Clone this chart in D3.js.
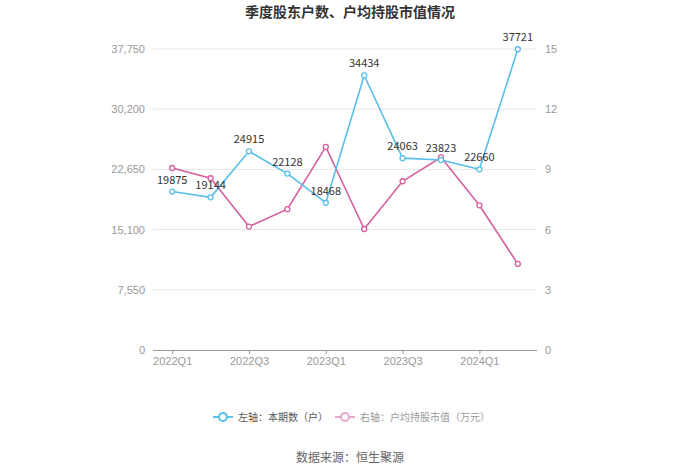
<!DOCTYPE html>
<html><head><meta charset="utf-8">
<script src="https://cdn.jsdelivr.net/npm/d3@7"></script>
<style>body{margin:0;background:#fff;}svg{display:block;font-family:"Noto Sans CJK SC","Noto Sans",sans-serif;}</style>
</head><body><svg id="c" width="700" height="474"></svg>
<script>
const categories = ["2022Q1","2022Q2","2022Q3","2022Q4","2023Q1","2023Q2","2023Q3","2023Q4","2024Q1","2024Q2"];
const holders = [19875,19144,24915,22128,18468,34434,24063,23823,22660,37721];
const avgValue = [9.07,8.56,6.15,7.02,10.12,6.03,8.41,9.60,7.21,4.29];
const leftTicks = [0,7550,15100,22650,30200,37750];
const rightTicks = [0,3,6,9,12,15];
const xLabels = ["2022Q1","2022Q3","2023Q1","2023Q3","2024Q1"];

const blue = "#58bfea", pink = "#d4609f";
const svg = d3.select("#c");
const L = 153, R = 537, T = 49, B = 350;
const x = d3.scalePoint().domain(categories).range([L, R]).padding(0.5);
const yL = d3.scaleLinear().domain([0, 37750]).range([B, T]);
const yR = d3.scaleLinear().domain([0, 15]).range([B, T]);

svg.append("text").attr("x", 350).attr("y", 17).attr("text-anchor", "middle")
  .attr("font-size", 14).attr("font-weight", "bold").attr("fill", "#333").text("季度股东户数、户均持股市值情况");

// grid
svg.append("g").selectAll("line").data(leftTicks.slice(1)).join("line")
  .attr("x1", L).attr("x2", R).attr("y1", d => yL(d)).attr("y2", d => yL(d))
  .attr("stroke", "#e6e6e6").attr("stroke-width", 1);

// left axis
const gl = svg.append("g").attr("transform", `translate(${L},0)`)
  .call(d3.axisLeft(yL).tickValues(leftTicks).tickFormat(d3.format(",")).tickSize(0).tickPadding(8));
gl.select(".domain").remove();
gl.selectAll("text").attr("fill", "#999").attr("font-size", 11).style("font-family", "inherit");

const gr = svg.append("g").attr("transform", `translate(${R},0)`)
  .call(d3.axisRight(yR).tickValues(rightTicks).tickSize(0).tickPadding(8));
gr.select(".domain").remove();
gr.selectAll("text").attr("fill", "#999").attr("font-size", 11).style("font-family", "inherit");

// bottom axis
const gb = svg.append("g").attr("transform", `translate(0,${B})`)
  .call(d3.axisBottom(x).tickValues(xLabels).tickSize(4).tickPadding(3).tickSizeOuter(0));
gb.select(".domain").attr("stroke", "#999").attr("d", `M${L},0.5H${R}`);
gb.selectAll("line").attr("stroke", "#999");
gb.selectAll("text").attr("fill", "#999").attr("font-size", 11).style("font-family", "inherit");

// lines
const lineL = d3.line().x((d, i) => x(categories[i])).y(d => yL(d));
const lineR = d3.line().x((d, i) => x(categories[i])).y(d => yR(d));
svg.append("path").datum(avgValue).attr("d", lineR).attr("fill", "none").attr("stroke", pink).attr("stroke-width", 1.6);
svg.append("path").datum(holders).attr("d", lineL).attr("fill", "none").attr("stroke", blue).attr("stroke-width", 1.6);

svg.append("g").selectAll("circle").data(avgValue).join("circle")
  .attr("cx", (d, i) => x(categories[i])).attr("cy", d => yR(d)).attr("r", 2.5)
  .attr("fill", "#fff").attr("stroke", pink).attr("stroke-width", 1.3);
svg.append("g").selectAll("circle").data(holders).join("circle")
  .attr("cx", (d, i) => x(categories[i])).attr("cy", d => yL(d)).attr("r", 2.5)
  .attr("fill", "#fff").attr("stroke", blue).attr("stroke-width", 1.3);

svg.append("g").selectAll("text").data(holders).join("text")
  .attr("x", (d, i) => x(categories[i])).attr("y", d => yL(d) - 8)
  .attr("text-anchor", "middle").attr("font-size", 11).attr("fill", "#333").text(d => d);

// legend
const lg = svg.append("g");
function legendItem(x0, tx, color, label, tcolor) {
  lg.append("line").attr("x1", x0).attr("x2", x0 + 20).attr("y1", 417).attr("y2", 417).attr("stroke", color).attr("stroke-width", 2);
  lg.append("circle").attr("cx", x0 + 10).attr("cy", 417).attr("r", 4).attr("fill", "#fff").attr("stroke", color).attr("stroke-width", 2);
  lg.append("text").attr("x", tx).attr("y", 421).attr("font-size", 10).attr("fill", tcolor).text(label);
}
legendItem(213, 238, blue, "左轴：本期数（户）", "#555");
legendItem(335, 360, "#e8a6cc", "右轴：户均持股市值（万元）", "#999");

svg.append("text").attr("x", 350).attr("y", 462).attr("text-anchor", "middle")
  .attr("font-size", 12).attr("fill", "#666").text("数据来源：恒生聚源");
</script></body></html>
